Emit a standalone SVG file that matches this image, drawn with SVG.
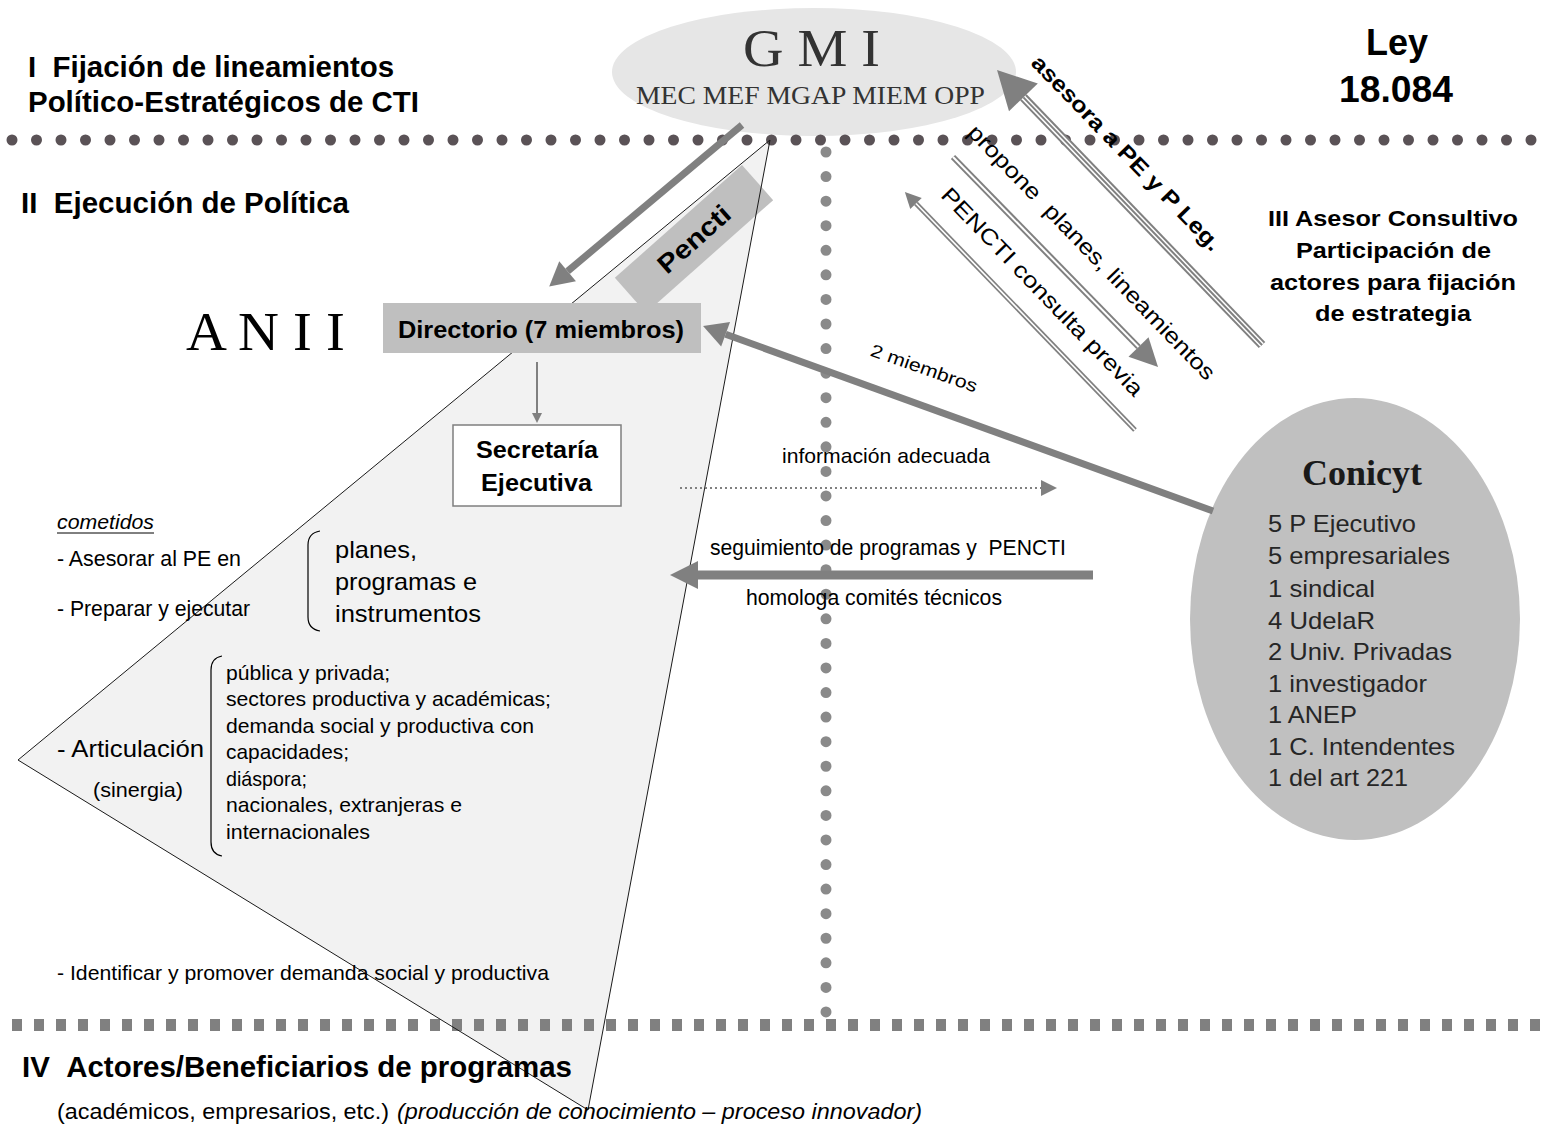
<svg xmlns="http://www.w3.org/2000/svg" width="1544" height="1125" viewBox="0 0 1544 1125">
<defs>
<style>
text{font-family:"Liberation Sans",Arial,sans-serif;fill:#000}
.b{font-weight:bold}
.sec{font-size:30px;font-weight:bold}
.serif{font-family:"Liberation Serif","Times New Roman",serif}
.s19{font-size:21px}
.s20{font-size:22px}
.s23{font-size:24px}
.lst{font-size:24px;fill:#262626}
.gl{stroke:#808080;fill:none}
.wl{stroke:#ffffff;fill:none}
</style>
<marker id="hBig" markerUnits="userSpaceOnUse" viewBox="0 -13 24 26" markerWidth="24" markerHeight="26" refX="0" refY="0" orient="auto" overflow="visible"><path d="M0,-13 L24,0 L0,13 z" fill="#808080"/></marker>
<marker id="hSeg" markerUnits="userSpaceOnUse" viewBox="0 -14 28 28" markerWidth="28" markerHeight="28" refX="0" refY="0" orient="auto" overflow="visible"><path d="M0,-14 L28,0 L0,14 z" fill="#808080"/></marker>
<marker id="hAses" markerUnits="userSpaceOnUse" viewBox="0 -20 38 40" markerWidth="38" markerHeight="40" refX="0" refY="0" orient="auto" overflow="visible"><path d="M0,-20 L38,0 L0,20 z" fill="#808080"/></marker>
<marker id="hSm" markerUnits="userSpaceOnUse" viewBox="0 -8 16 16" markerWidth="16" markerHeight="16" refX="0" refY="0" orient="auto" overflow="visible"><path d="M0,-8 L16,0 L0,8 z" fill="#808080"/></marker>
<marker id="hTiny" markerUnits="userSpaceOnUse" viewBox="0 -5 10 10" markerWidth="10" markerHeight="10" refX="0" refY="0" orient="auto" overflow="visible"><path d="M0,-5 L10,0 L0,5 z" fill="#808080"/></marker>
</defs>
<rect width="1544" height="1125" fill="#ffffff"/>

<g id="gmi">
<ellipse cx="814" cy="72" rx="202" ry="64" fill="#e6e6e6"/>
<text class="serif" x="743" y="66" font-size="52" style="fill:#333" textLength="137" lengthAdjust="spacingAndGlyphs">G M I</text>
<text class="serif" x="636" y="104" font-size="26" style="fill:#333" textLength="349" lengthAdjust="spacingAndGlyphs">MEC MEF MGAP MIEM OPP</text>
</g>

<g id="anii-triangle">
<polygon points="770,140 18,760 588,1110" fill="#f2f2f2"/>
</g>

<g id="dividers">
<line x1="12" y1="140" x2="1535" y2="140" stroke="#5a5256" stroke-width="11" stroke-linecap="round" stroke-dasharray="0 24.5"/>
<line x1="826" y1="152" x2="826" y2="1012" stroke="#8a8a8a" stroke-width="11" stroke-linecap="round" stroke-dasharray="0 24.57"/>
<line x1="12" y1="1025" x2="1544" y2="1025" stroke="#808080" stroke-width="12" stroke-dasharray="10 12"/>
</g>

<g id="pencti">
<rect x="609" y="215.5" width="170" height="47" fill="#bfbfbf" transform="rotate(-41.6 694 239)"/>
<text class="b" x="650" y="248" font-size="26" textLength="88" lengthAdjust="spacingAndGlyphs" transform="rotate(-41.6 694 239)">Pencti</text>
</g>

<g id="anii-outline">
<polygon points="770,140 18,760 588,1110" fill="none" stroke="#1a1a1a" stroke-width="1"/>
</g>

<g id="titles">
<text class="sec" x="28" y="77" textLength="366" lengthAdjust="spacingAndGlyphs">I &#160;Fijación de lineamientos</text>
<text class="sec" x="28" y="112" textLength="391" lengthAdjust="spacingAndGlyphs">Político-Estratégicos de CTI</text>
<text class="sec" x="21" y="213" textLength="328" lengthAdjust="spacingAndGlyphs">II &#160;Ejecución de Política</text>
<text class="sec" x="22" y="1077" textLength="550" lengthAdjust="spacingAndGlyphs">IV &#160;Actores/Beneficiarios de programas</text>
<text class="s20" x="57" y="1119" textLength="332" lengthAdjust="spacingAndGlyphs">(académicos, empresarios, etc.)</text>
<text class="s20" x="397" y="1119" font-style="italic" textLength="525" lengthAdjust="spacingAndGlyphs">(producción de conocimiento – proceso innovador)</text>
</g>

<g id="ley">
<text class="b" x="1366" y="55" font-size="37" textLength="62" lengthAdjust="spacingAndGlyphs">Ley</text>
<text class="b" x="1339" y="102" font-size="37" textLength="114" lengthAdjust="spacingAndGlyphs">18.084</text>
</g>

<g id="asesor-consultivo">
<text class="b" x="1268" y="226" font-size="22" textLength="250" lengthAdjust="spacingAndGlyphs">III Asesor Consultivo</text>
<text class="b" x="1296" y="258" font-size="22" textLength="195" lengthAdjust="spacingAndGlyphs">Participación de</text>
<text class="b" x="1270" y="290" font-size="22" textLength="246" lengthAdjust="spacingAndGlyphs">actores para fijación</text>
<text class="b" x="1315" y="321" font-size="22" textLength="156" lengthAdjust="spacingAndGlyphs">de estrategia</text>
</g>

<g id="anii-label">
<text class="serif" x="186" y="350" font-size="55" textLength="159" lengthAdjust="spacingAndGlyphs">A N I I</text>
</g>

<g id="directorio">
<rect x="383" y="303" width="318" height="50" fill="#bfbfbf"/>
<text class="b" x="398" y="338" font-size="23" textLength="286" lengthAdjust="spacingAndGlyphs">Directorio (7 miembros)</text>
</g>

<g id="secretaria">
<rect x="453" y="425" width="168" height="81" fill="#ffffff" stroke="#7f7f7f" stroke-width="1.5"/>
<text class="b" x="476" y="458" font-size="23" textLength="122" lengthAdjust="spacingAndGlyphs">Secretaría</text>
<text class="b" x="481" y="491" font-size="23" textLength="111" lengthAdjust="spacingAndGlyphs">Ejecutiva</text>
</g>

<g id="cometidos">
<text class="s19" x="57" y="529" font-style="italic" textLength="97" lengthAdjust="spacingAndGlyphs">cometidos</text>
<line x1="57" y1="533" x2="154" y2="533" stroke="#000" stroke-width="1"/>
<text class="s20" x="57" y="566" textLength="184" lengthAdjust="spacingAndGlyphs">- Asesorar al PE en</text>
<text class="s20" x="57" y="616" textLength="193" lengthAdjust="spacingAndGlyphs">- Preparar y ejecutar</text>
<path d="M320,531 Q308,533 308,545 L308,617 Q308,629 320,631" fill="none" stroke="#000" stroke-width="1.2"/>
<text class="s23" x="335" y="558" textLength="82" lengthAdjust="spacingAndGlyphs">planes,</text>
<text class="s23" x="335" y="590" textLength="142" lengthAdjust="spacingAndGlyphs">programas e</text>
<text class="s23" x="335" y="622" textLength="146" lengthAdjust="spacingAndGlyphs">instrumentos</text>
<text class="s23" x="57" y="757" textLength="147" lengthAdjust="spacingAndGlyphs">- Articulación</text>
<text class="s19" x="93" y="797" textLength="90" lengthAdjust="spacingAndGlyphs">(sinergia)</text>
<path d="M222,656 Q211,658 211,670 L211,842 Q211,854 222,856" fill="none" stroke="#000" stroke-width="1.2"/>
<text class="s19" x="226" y="680" textLength="164" lengthAdjust="spacingAndGlyphs">pública y privada;</text>
<text class="s19" x="226" y="706" textLength="325" lengthAdjust="spacingAndGlyphs">sectores productiva y académicas;</text>
<text class="s19" x="226" y="733" textLength="308" lengthAdjust="spacingAndGlyphs">demanda social y productiva con</text>
<text class="s19" x="226" y="759" textLength="123" lengthAdjust="spacingAndGlyphs">capacidades;</text>
<text class="s19" x="226" y="786" textLength="81" lengthAdjust="spacingAndGlyphs">diáspora;</text>
<text class="s19" x="226" y="812" textLength="236" lengthAdjust="spacingAndGlyphs">nacionales, extranjeras e</text>
<text class="s19" x="226" y="839" textLength="144" lengthAdjust="spacingAndGlyphs">internacionales</text>
<text class="s19" x="57" y="980" textLength="492" lengthAdjust="spacingAndGlyphs">- Identificar y promover demanda social y productiva</text>
</g>

<g id="conicyt">
<ellipse cx="1355" cy="619" rx="165" ry="221" fill="#c0c0c0"/>
<text class="serif b" x="1302" y="485" font-size="35" style="fill:#1a1a1a" textLength="120" lengthAdjust="spacingAndGlyphs">Conicyt</text>
<text class="lst" x="1268" y="532" textLength="148" lengthAdjust="spacingAndGlyphs">5 P Ejecutivo</text>
<text class="lst" x="1268" y="564" textLength="182" lengthAdjust="spacingAndGlyphs">5 empresariales</text>
<text class="lst" x="1268" y="597" textLength="107" lengthAdjust="spacingAndGlyphs">1 sindical</text>
<text class="lst" x="1268" y="629" textLength="107" lengthAdjust="spacingAndGlyphs">4 UdelaR</text>
<text class="lst" x="1268" y="660" textLength="184" lengthAdjust="spacingAndGlyphs">2 Univ. Privadas</text>
<text class="lst" x="1268" y="692" textLength="159" lengthAdjust="spacingAndGlyphs">1 investigador</text>
<text class="lst" x="1268" y="723" textLength="89" lengthAdjust="spacingAndGlyphs">1 ANEP</text>
<text class="lst" x="1268" y="755" textLength="187" lengthAdjust="spacingAndGlyphs">1 C. Intendentes</text>
<text class="lst" x="1268" y="786" textLength="140" lengthAdjust="spacingAndGlyphs">1 del art 221</text>
</g>

<g id="connectors">
<line class="gl" x1="742" y1="125" x2="567.6" y2="271.2" stroke-width="7" marker-end="url(#hBig)"/>
<line class="gl" x1="1213" y1="511" x2="725.6" y2="334.2" stroke-width="7" marker-end="url(#hBig)"/>
<line class="gl" x1="1093" y1="575" x2="698" y2="575" stroke-width="9" marker-end="url(#hSeg)"/>
<line class="gl" x1="680" y1="488" x2="1041" y2="488" stroke-width="2" stroke-dasharray="2 3" marker-end="url(#hSm)"/>
<line class="gl" x1="537" y1="362" x2="537" y2="413" stroke-width="2" marker-end="url(#hTiny)"/>
<line class="gl" x1="1262" y1="345" x2="1023.4" y2="97.4" stroke-width="9" marker-end="url(#hAses)"/>
<line class="wl" x1="1262" y1="345" x2="1023.4" y2="97.4" stroke-width="5"/>
<line class="gl" x1="1262" y1="345" x2="1023.4" y2="97.4" stroke-width="2"/>
<line class="gl" x1="953" y1="157" x2="1138.5" y2="347" stroke-width="6" marker-end="url(#hSeg)"/>
<line class="wl" x1="953" y1="157" x2="1138.5" y2="347" stroke-width="2"/>
<line class="gl" x1="1135" y1="430" x2="916" y2="203.5" stroke-width="5" marker-end="url(#hSm)"/>
<line class="wl" x1="1135" y1="430" x2="916" y2="203.5" stroke-width="1.6"/>
</g>

<g id="connector-labels">
<text class="b" font-size="22" transform="translate(1030,64) rotate(46)" textLength="262" lengthAdjust="spacingAndGlyphs">asesora a PE y P Leg.</text>
<text font-size="22" transform="translate(966.6,133.4) rotate(46)" textLength="345" lengthAdjust="spacingAndGlyphs">propone &#160;planes, lineamientos</text>
<text font-size="22" transform="translate(939.7,196.3) rotate(46)" textLength="280" lengthAdjust="spacingAndGlyphs">PENCTI consulta previa</text>
<text font-size="18" transform="translate(869.2,355.4) rotate(19.4)" textLength="112" lengthAdjust="spacingAndGlyphs">2 miembros</text>
<text class="s19" x="782" y="463" textLength="208" lengthAdjust="spacingAndGlyphs">información adecuada</text>
<text class="s20" x="710" y="555" textLength="356" lengthAdjust="spacingAndGlyphs">seguimiento de programas y &#160;PENCTI</text>
<text class="s20" x="746" y="605" textLength="256" lengthAdjust="spacingAndGlyphs">homologa comités técnicos</text>
</g>
</svg>
